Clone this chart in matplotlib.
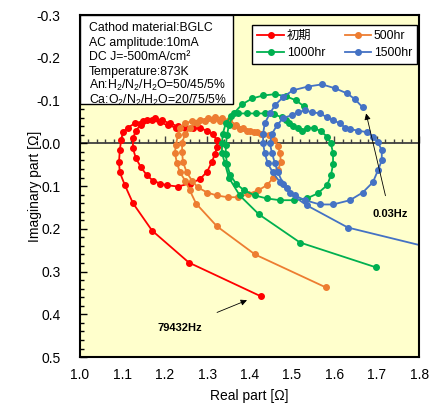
import matplotlib
matplotlib.use("Agg")
import matplotlib.pyplot as plt
from matplotlib.patches import Rectangle
from matplotlib.ticker import MultipleLocator, FormatStrFormatter

plt.rcParams['font.family'] = ['Liberation Sans', 'Noto Sans CJK JP', 'DejaVu Sans']
plt.rcParams['mathtext.fontset'] = 'custom'
plt.rcParams['mathtext.rm'] = 'Liberation Sans'
plt.rcParams['mathtext.it'] = 'Liberation Sans:italic'
plt.rcParams['axes.unicode_minus'] = False

# Nyquist data (real part, imaginary part) [ohm]
labels = ['初期', '500hr', '1000hr', '1500hr']
colors = ['#FF0000', '#ED7D31', '#00B050', '#4472C4']

re_0 = [1.427, 1.257, 1.170, 1.125, 1.106, 1.094, 1.092, 1.094, 1.097, 1.101,
        1.113, 1.130, 1.149, 1.170, 1.189, 1.208, 1.226, 1.248, 1.267, 1.283,
        1.300, 1.314, 1.323, 1.323, 1.318, 1.311, 1.300, 1.283, 1.259, 1.231,
        1.205, 1.189, 1.172, 1.158, 1.144, 1.132, 1.125, 1.125, 1.132, 1.144,
        1.158, 1.177, 1.193, 1.212, 1.231, 1.250]
im_0 = [0.358, 0.279, 0.204, 0.140, 0.098, 0.068, 0.044, 0.016, -0.007, -0.026,
        -0.037, -0.047, -0.052, -0.054, -0.049, -0.042, -0.037, -0.035, -0.035, -0.035,
        -0.030, -0.021, -0.007, 0.009, 0.026, 0.044, 0.066, 0.084, 0.094, 0.101,
        0.098, 0.094, 0.087, 0.075, 0.056, 0.035, 0.012, -0.012, -0.030, -0.044,
        -0.054, -0.059, -0.054, -0.047, -0.040, -0.037]

re_1 = [1.580, 1.413, 1.323, 1.274, 1.259, 1.248, 1.236, 1.229, 1.224, 1.226,
        1.231, 1.236, 1.248, 1.264, 1.283, 1.302, 1.318, 1.335, 1.351, 1.368,
        1.384, 1.401, 1.417, 1.432, 1.446, 1.458, 1.467, 1.472, 1.474, 1.467,
        1.455, 1.441, 1.420, 1.396, 1.373, 1.349, 1.323, 1.300, 1.278, 1.264,
        1.252, 1.243, 1.241, 1.241, 1.248, 1.259, 1.276, 1.295, 1.314, 1.330,
        1.347, 1.363, 1.377, 1.394, 1.410, 1.427]
im_1 = [0.337, 0.260, 0.194, 0.141, 0.110, 0.087, 0.068, 0.047, 0.023, 0.005,
        -0.019, -0.037, -0.047, -0.052, -0.054, -0.059, -0.061, -0.059, -0.054, -0.044,
        -0.035, -0.028, -0.026, -0.023, -0.019, -0.009, 0.007, 0.023, 0.044, 0.063,
        0.082, 0.098, 0.110, 0.119, 0.126, 0.126, 0.122, 0.115, 0.103, 0.087,
        0.068, 0.044, 0.021, 0.000, -0.023, -0.037, -0.047, -0.052, -0.054, -0.052,
        -0.047, -0.040, -0.033, -0.028, -0.026, -0.021]

re_2 = [1.698, 1.519, 1.422, 1.377, 1.351, 1.342, 1.335, 1.335, 1.337, 1.344,
        1.356, 1.373, 1.394, 1.415, 1.436, 1.458, 1.476, 1.486, 1.494, 1.502,
        1.514, 1.524, 1.535, 1.552, 1.568, 1.583, 1.592, 1.597, 1.597, 1.592,
        1.583, 1.561, 1.535, 1.505, 1.472, 1.441, 1.413, 1.387, 1.368, 1.354,
        1.347, 1.344, 1.344, 1.347, 1.351, 1.363, 1.382, 1.406, 1.432, 1.460,
        1.486, 1.509, 1.528]
im_2 = [0.290, 0.232, 0.166, 0.122, 0.080, 0.047, 0.023, 0.000, -0.023, -0.047,
        -0.063, -0.070, -0.070, -0.070, -0.070, -0.068, -0.061, -0.054, -0.047, -0.040,
        -0.035, -0.028, -0.035, -0.037, -0.028, -0.016, 0.000, 0.023, 0.049, 0.075,
        0.098, 0.117, 0.129, 0.133, 0.133, 0.129, 0.122, 0.110, 0.094, 0.073,
        0.049, 0.026, 0.005, -0.019, -0.042, -0.070, -0.091, -0.105, -0.112, -0.115,
        -0.110, -0.101, -0.087]

re_3 = [1.900, 1.632, 1.535, 1.495, 1.479, 1.467, 1.460, 1.453, 1.448, 1.453,
        1.465, 1.479, 1.500, 1.514, 1.531, 1.547, 1.566, 1.583, 1.597, 1.613,
        1.625, 1.637, 1.656, 1.677, 1.691, 1.703, 1.712, 1.712, 1.703, 1.691,
        1.667, 1.637, 1.597, 1.566, 1.531, 1.507, 1.488, 1.472, 1.455, 1.443,
        1.436, 1.432, 1.432, 1.436, 1.448, 1.460, 1.479, 1.502, 1.538, 1.571,
        1.601, 1.630, 1.649, 1.667]
im_3 = [0.262, 0.197, 0.145, 0.117, 0.094, 0.068, 0.047, 0.023, 0.000, -0.023,
        -0.042, -0.059, -0.066, -0.073, -0.077, -0.073, -0.070, -0.061, -0.054, -0.047,
        -0.037, -0.033, -0.030, -0.026, -0.016, -0.002, 0.016, 0.040, 0.063, 0.091,
        0.115, 0.133, 0.143, 0.143, 0.133, 0.122, 0.105, 0.091, 0.068, 0.047,
        0.023, 0.000, -0.023, -0.047, -0.070, -0.089, -0.108, -0.124, -0.133, -0.138,
        -0.129, -0.117, -0.103, -0.084]

series_re = [re_0, re_1, re_2, re_3]
series_im = [im_0, im_1, im_2, im_3]

info_lines = ['Cathod material:BGLC',
              'AC amplitude:10mA',
              'DC J=-500mA/cm²',
              'Temperature:873K',
              'An:H$_2$/N$_2$/H$_2$O=50/45/5%',
              'Ca:O$_2$/N$_2$/H$_2$O=20/75/5%']

fig = plt.figure(figsize=(4.37, 4.09), dpi=100)
ax = fig.add_axes([0.183, 0.127, 0.776, 0.836])
ax.set_facecolor('#FFFFCC')

for xs, ys, lab, c in zip(series_re, series_im, labels, colors):
    ax.plot(xs, ys, '-o', color=c, lw=1.3, ms=4, label=lab)

ax.set_xlim(1.0, 1.8)
ax.set_ylim(0.5, -0.3)

for s in ax.spines.values():
    s.set_linewidth(1.5)
    s.set_color('black')

ax.xaxis.set_major_locator(MultipleLocator(0.1))
ax.xaxis.set_major_formatter(FormatStrFormatter('%.1f'))
ax.yaxis.set_major_locator(MultipleLocator(0.1))
ax.yaxis.set_minor_locator(MultipleLocator(0.02))
ax.yaxis.set_major_formatter(FormatStrFormatter('%.1f'))
ax.tick_params(axis='x', which='both', length=0, pad=8, labelsize=10)
ax.tick_params(axis='y', which='major', direction='in', length=5, width=1, pad=14, labelsize=10)
ax.tick_params(axis='y', which='minor', direction='in', length=3, width=1)

# x axis line with ticks at Im = 0
sec = ax.secondary_xaxis(0, transform=ax.transData)
sec.xaxis.set_major_locator(MultipleLocator(0.1))
sec.xaxis.set_minor_locator(MultipleLocator(0.02))
sec.tick_params(which='both', labelbottom=False, labeltop=False, direction='in',
                color='#404040', width=1)
sec.tick_params(which='major', length=5)
sec.tick_params(which='minor', length=3)
for s in sec.spines.values():
    s.set_color('#404040')
    s.set_linewidth(1.3)

ax.set_xlabel('Real part [Ω]', fontsize=10, labelpad=5)
ax.set_ylabel('Imaginary part [Ω]', fontsize=10, labelpad=-4)

# condition box in the upper left corner
ax.add_patch(Rectangle((0, 0.74), 0.451, 0.26, transform=ax.transAxes,
                       fc='white', ec='black', lw=1, zorder=5, clip_on=False))
for i, line in enumerate(info_lines):
    ax.text(0.027, 0.953 - i * 0.0425, line, transform=ax.transAxes,
            ha='left', va='baseline', fontsize=8.8, zorder=6)

handles, labs = ax.get_legend_handles_labels()
order = [0, 2, 1, 3]
leg = ax.legend([handles[i] for i in order], [labs[i] for i in order],
                ncol=2, loc='upper right', bbox_to_anchor=(0.994, 0.971),
                fontsize=8.8, fancybox=False, edgecolor='black', framealpha=1,
                handlelength=2.2, columnspacing=1.6, borderpad=0.4,
                labelspacing=0.4, handletextpad=0.2, borderaxespad=0)
leg.get_frame().set_linewidth(1)

ax.annotate('79432Hz', xy=(1.394, 0.367), xytext=(1.236, 0.431),
            fontsize=8, fontweight='bold', ha='center', va='center',
            arrowprops=dict(arrowstyle='-|>', color='black', lw=0.6,
                            mutation_scale=9, shrinkA=14, shrinkB=0))
ax.annotate('0.03Hz', xy=(1.675, -0.070), xytext=(1.731, 0.166),
            fontsize=8, fontweight='bold', ha='center', va='center',
            arrowprops=dict(arrowstyle='-|>', color='black', lw=0.6,
                            mutation_scale=9, shrinkA=8, shrinkB=0))

fig.savefig('out.png', dpi=100)
